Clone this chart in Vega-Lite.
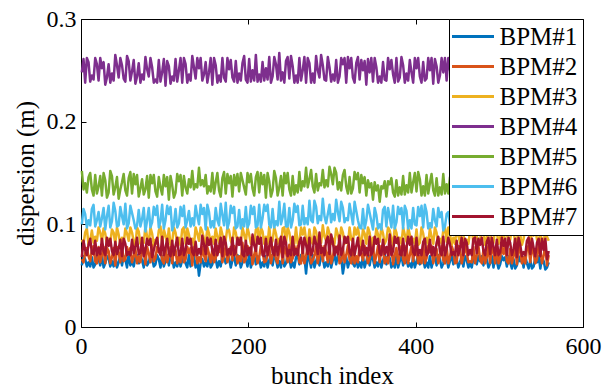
{
"$schema": "https://vega.github.io/schema/vega-lite/v6.json",
"width": 502, "height": 308, "autosize": "none",
"padding": {"left": 81, "top": 19, "right": 22, "bottom": 61},
"background": "white",
"config": {"view": {"stroke": "black", "strokeWidth": 1}, "font": "Liberation Serif, Times New Roman, DejaVu Serif, serif",
 "axis": {"domain": false, "grid": false, "labelFlush": false, "tickColor": "black", "tickWidth": 1, "tickSize": -5, "labelColor": "black", "labelFont": "Liberation Serif, Times New Roman, DejaVu Serif, serif", "labelFontSize": 24, "titleFont": "Liberation Serif, Times New Roman, DejaVu Serif, serif", "titleFontSize": 25, "titleFontWeight": "normal", "titleColor": "black"}},
"data": {"values": [
{"i":1,"BPM#1":0.060,"BPM#2":0.066,"BPM#3":0.085,"BPM#4":0.248,"BPM#5":0.152,"BPM#6":0.100,"BPM#7":0.068},
{"i":3,"BPM#1":0.069,"BPM#2":0.063,"BPM#3":0.081,"BPM#4":0.261,"BPM#5":0.134,"BPM#6":0.115,"BPM#7":0.084},
{"i":5,"BPM#1":0.066,"BPM#2":0.072,"BPM#3":0.092,"BPM#4":0.238,"BPM#5":0.140,"BPM#6":0.110,"BPM#7":0.075},
{"i":7,"BPM#1":0.059,"BPM#2":0.077,"BPM#3":0.096,"BPM#4":0.262,"BPM#5":0.131,"BPM#6":0.097,"BPM#7":0.070},
{"i":9,"BPM#1":0.063,"BPM#2":0.069,"BPM#3":0.080,"BPM#4":0.258,"BPM#5":0.146,"BPM#6":0.104,"BPM#7":0.080},
{"i":11,"BPM#1":0.059,"BPM#2":0.064,"BPM#3":0.084,"BPM#4":0.239,"BPM#5":0.150,"BPM#6":0.099,"BPM#7":0.086},
{"i":13,"BPM#1":0.068,"BPM#2":0.075,"BPM#3":0.094,"BPM#4":0.245,"BPM#5":0.134,"BPM#6":0.115,"BPM#7":0.072},
{"i":15,"BPM#1":0.058,"BPM#2":0.079,"BPM#3":0.082,"BPM#4":0.241,"BPM#5":0.128,"BPM#6":0.119,"BPM#7":0.071},
{"i":17,"BPM#1":0.061,"BPM#2":0.064,"BPM#3":0.088,"BPM#4":0.262,"BPM#5":0.148,"BPM#6":0.098,"BPM#7":0.084},
{"i":19,"BPM#1":0.069,"BPM#2":0.062,"BPM#3":0.084,"BPM#4":0.256,"BPM#5":0.130,"BPM#6":0.104,"BPM#7":0.070},
{"i":21,"BPM#1":0.066,"BPM#2":0.078,"BPM#3":0.097,"BPM#4":0.240,"BPM#5":0.137,"BPM#6":0.112,"BPM#7":0.077},
{"i":23,"BPM#1":0.060,"BPM#2":0.063,"BPM#3":0.092,"BPM#4":0.262,"BPM#5":0.147,"BPM#6":0.098,"BPM#7":0.071},
{"i":25,"BPM#1":0.070,"BPM#2":0.070,"BPM#3":0.083,"BPM#4":0.252,"BPM#5":0.128,"BPM#6":0.106,"BPM#7":0.086},
{"i":27,"BPM#1":0.058,"BPM#2":0.078,"BPM#3":0.096,"BPM#4":0.258,"BPM#5":0.150,"BPM#6":0.116,"BPM#7":0.074},
{"i":29,"BPM#1":0.062,"BPM#2":0.062,"BPM#3":0.091,"BPM#4":0.236,"BPM#5":0.143,"BPM#6":0.095,"BPM#7":0.070},
{"i":31,"BPM#1":0.069,"BPM#2":0.077,"BPM#3":0.080,"BPM#4":0.243,"BPM#5":0.126,"BPM#6":0.108,"BPM#7":0.087},
{"i":33,"BPM#1":0.067,"BPM#2":0.074,"BPM#3":0.086,"BPM#4":0.256,"BPM#5":0.131,"BPM#6":0.118,"BPM#7":0.079},
{"i":35,"BPM#1":0.059,"BPM#2":0.062,"BPM#3":0.082,"BPM#4":0.238,"BPM#5":0.152,"BPM#6":0.097,"BPM#7":0.086},
{"i":37,"BPM#1":0.064,"BPM#2":0.068,"BPM#3":0.095,"BPM#4":0.247,"BPM#5":0.147,"BPM#6":0.103,"BPM#7":0.074},
{"i":39,"BPM#1":0.059,"BPM#2":0.077,"BPM#3":0.092,"BPM#4":0.240,"BPM#5":0.129,"BPM#6":0.121,"BPM#7":0.070},
{"i":41,"BPM#1":0.069,"BPM#2":0.060,"BPM#3":0.081,"BPM#4":0.265,"BPM#5":0.136,"BPM#6":0.113,"BPM#7":0.083},
{"i":43,"BPM#1":0.058,"BPM#2":0.078,"BPM#3":0.097,"BPM#4":0.255,"BPM#5":0.146,"BPM#6":0.098,"BPM#7":0.071},
{"i":45,"BPM#1":0.063,"BPM#2":0.073,"BPM#3":0.090,"BPM#4":0.243,"BPM#5":0.125,"BPM#6":0.099,"BPM#7":0.076},
{"i":47,"BPM#1":0.070,"BPM#2":0.063,"BPM#3":0.080,"BPM#4":0.262,"BPM#5":0.134,"BPM#6":0.117,"BPM#7":0.085},
{"i":49,"BPM#1":0.060,"BPM#2":0.079,"BPM#3":0.087,"BPM#4":0.255,"BPM#5":0.141,"BPM#6":0.108,"BPM#7":0.069},
{"i":51,"BPM#1":0.069,"BPM#2":0.064,"BPM#3":0.081,"BPM#4":0.242,"BPM#5":0.149,"BPM#6":0.100,"BPM#7":0.086},
{"i":53,"BPM#1":0.066,"BPM#2":0.066,"BPM#3":0.096,"BPM#4":0.239,"BPM#5":0.133,"BPM#6":0.120,"BPM#7":0.081},
{"i":55,"BPM#1":0.058,"BPM#2":0.078,"BPM#3":0.091,"BPM#4":0.264,"BPM#5":0.128,"BPM#6":0.096,"BPM#7":0.070},
{"i":57,"BPM#1":0.071,"BPM#2":0.071,"BPM#3":0.084,"BPM#4":0.259,"BPM#5":0.145,"BPM#6":0.101,"BPM#7":0.073},
{"i":59,"BPM#1":0.060,"BPM#2":0.077,"BPM#3":0.097,"BPM#4":0.240,"BPM#5":0.151,"BPM#6":0.118,"BPM#7":0.070},
{"i":61,"BPM#1":0.064,"BPM#2":0.063,"BPM#3":0.092,"BPM#4":0.249,"BPM#5":0.130,"BPM#6":0.111,"BPM#7":0.085},
{"i":63,"BPM#1":0.059,"BPM#2":0.069,"BPM#3":0.083,"BPM#4":0.260,"BPM#5":0.149,"BPM#6":0.104,"BPM#7":0.072},
{"i":65,"BPM#1":0.068,"BPM#2":0.076,"BPM#3":0.079,"BPM#4":0.237,"BPM#5":0.139,"BPM#6":0.096,"BPM#7":0.078},
{"i":67,"BPM#1":0.070,"BPM#2":0.062,"BPM#3":0.097,"BPM#4":0.244,"BPM#5":0.148,"BPM#6":0.099,"BPM#7":0.087},
{"i":69,"BPM#1":0.062,"BPM#2":0.069,"BPM#3":0.093,"BPM#4":0.257,"BPM#5":0.127,"BPM#6":0.114,"BPM#7":0.071},
{"i":71,"BPM#1":0.069,"BPM#2":0.063,"BPM#3":0.081,"BPM#4":0.238,"BPM#5":0.135,"BPM#6":0.098,"BPM#7":0.072},
{"i":73,"BPM#1":0.065,"BPM#2":0.074,"BPM#3":0.086,"BPM#4":0.246,"BPM#5":0.144,"BPM#6":0.105,"BPM#7":0.087},
{"i":75,"BPM#1":0.058,"BPM#2":0.077,"BPM#3":0.082,"BPM#4":0.241,"BPM#5":0.129,"BPM#6":0.116,"BPM#7":0.069},
{"i":77,"BPM#1":0.070,"BPM#2":0.061,"BPM#3":0.098,"BPM#4":0.263,"BPM#5":0.134,"BPM#6":0.093,"BPM#7":0.075},
{"i":79,"BPM#1":0.060,"BPM#2":0.078,"BPM#3":0.088,"BPM#4":0.251,"BPM#5":0.147,"BPM#6":0.104,"BPM#7":0.086},
{"i":81,"BPM#1":0.063,"BPM#2":0.072,"BPM#3":0.082,"BPM#4":0.244,"BPM#5":0.126,"BPM#6":0.116,"BPM#7":0.080},
{"i":83,"BPM#1":0.070,"BPM#2":0.063,"BPM#3":0.097,"BPM#4":0.262,"BPM#5":0.148,"BPM#6":0.097,"BPM#7":0.086},
{"i":85,"BPM#1":0.067,"BPM#2":0.080,"BPM#3":0.091,"BPM#4":0.253,"BPM#5":0.140,"BPM#6":0.102,"BPM#7":0.068},
{"i":87,"BPM#1":0.059,"BPM#2":0.064,"BPM#3":0.080,"BPM#4":0.238,"BPM#5":0.148,"BPM#6":0.117,"BPM#7":0.075},
{"i":89,"BPM#1":0.061,"BPM#2":0.067,"BPM#3":0.085,"BPM#4":0.241,"BPM#5":0.132,"BPM#6":0.109,"BPM#7":0.082},
{"i":91,"BPM#1":0.070,"BPM#2":0.078,"BPM#3":0.081,"BPM#4":0.238,"BPM#5":0.127,"BPM#6":0.118,"BPM#7":0.087},
{"i":93,"BPM#1":0.066,"BPM#2":0.073,"BPM#3":0.094,"BPM#4":0.260,"BPM#5":0.146,"BPM#6":0.097,"BPM#7":0.074},
{"i":95,"BPM#1":0.058,"BPM#2":0.077,"BPM#3":0.098,"BPM#4":0.239,"BPM#5":0.136,"BPM#6":0.103,"BPM#7":0.070},
{"i":97,"BPM#1":0.069,"BPM#2":0.065,"BPM#3":0.080,"BPM#4":0.248,"BPM#5":0.129,"BPM#6":0.119,"BPM#7":0.088},
{"i":99,"BPM#1":0.059,"BPM#2":0.062,"BPM#3":0.095,"BPM#4":0.261,"BPM#5":0.148,"BPM#6":0.096,"BPM#7":0.070},
{"i":101,"BPM#1":0.064,"BPM#2":0.077,"BPM#3":0.089,"BPM#4":0.235,"BPM#5":0.137,"BPM#6":0.104,"BPM#7":0.077},
{"i":103,"BPM#1":0.070,"BPM#2":0.063,"BPM#3":0.081,"BPM#4":0.259,"BPM#5":0.146,"BPM#6":0.118,"BPM#7":0.086},
{"i":105,"BPM#1":0.060,"BPM#2":0.070,"BPM#3":0.096,"BPM#4":0.254,"BPM#5":0.124,"BPM#6":0.110,"BPM#7":0.072},
{"i":107,"BPM#1":0.069,"BPM#2":0.078,"BPM#3":0.080,"BPM#4":0.237,"BPM#5":0.147,"BPM#6":0.117,"BPM#7":0.069},
{"i":109,"BPM#1":0.067,"BPM#2":0.062,"BPM#3":0.083,"BPM#4":0.244,"BPM#5":0.138,"BPM#6":0.094,"BPM#7":0.084},
{"i":111,"BPM#1":0.058,"BPM#2":0.077,"BPM#3":0.097,"BPM#4":0.240,"BPM#5":0.126,"BPM#6":0.100,"BPM#7":0.070},
{"i":113,"BPM#1":0.063,"BPM#2":0.075,"BPM#3":0.092,"BPM#4":0.261,"BPM#5":0.131,"BPM#6":0.115,"BPM#7":0.079},
{"i":115,"BPM#1":0.059,"BPM#2":0.062,"BPM#3":0.081,"BPM#4":0.239,"BPM#5":0.149,"BPM#6":0.097,"BPM#7":0.087},
{"i":117,"BPM#1":0.068,"BPM#2":0.069,"BPM#3":0.087,"BPM#4":0.250,"BPM#5":0.142,"BPM#6":0.101,"BPM#7":0.070},
{"i":119,"BPM#1":0.059,"BPM#2":0.063,"BPM#3":0.080,"BPM#4":0.262,"BPM#5":0.148,"BPM#6":0.117,"BPM#7":0.071},
{"i":121,"BPM#1":0.065,"BPM#2":0.081,"BPM#3":0.095,"BPM#4":0.238,"BPM#5":0.128,"BPM#6":0.108,"BPM#7":0.086},
{"i":123,"BPM#1":0.070,"BPM#2":0.063,"BPM#3":0.097,"BPM#4":0.262,"BPM#5":0.147,"BPM#6":0.118,"BPM#7":0.070},
{"i":125,"BPM#1":0.062,"BPM#2":0.066,"BPM#3":0.081,"BPM#4":0.256,"BPM#5":0.136,"BPM#6":0.097,"BPM#7":0.075},
{"i":127,"BPM#1":0.058,"BPM#2":0.078,"BPM#3":0.096,"BPM#4":0.238,"BPM#5":0.130,"BPM#6":0.104,"BPM#7":0.087},
{"i":129,"BPM#1":0.070,"BPM#2":0.072,"BPM#3":0.090,"BPM#4":0.246,"BPM#5":0.144,"BPM#6":0.113,"BPM#7":0.081},
{"i":131,"BPM#1":0.059,"BPM#2":0.077,"BPM#3":0.081,"BPM#4":0.240,"BPM#5":0.136,"BPM#6":0.098,"BPM#7":0.086},
{"i":133,"BPM#1":0.064,"BPM#2":0.060,"BPM#3":0.086,"BPM#4":0.264,"BPM#5":0.152,"BPM#6":0.106,"BPM#7":0.073},
{"i":135,"BPM#1":0.068,"BPM#2":0.078,"BPM#3":0.080,"BPM#4":0.253,"BPM#5":0.134,"BPM#6":0.099,"BPM#7":0.070},
{"i":137,"BPM#1":0.058,"BPM#2":0.074,"BPM#3":0.097,"BPM#4":0.242,"BPM#5":0.139,"BPM#6":0.118,"BPM#7":0.083},
{"i":139,"BPM#1":0.066,"BPM#2":0.062,"BPM#3":0.091,"BPM#4":0.262,"BPM#5":0.136,"BPM#6":0.108,"BPM#7":0.070},
{"i":141,"BPM#1":0.050,"BPM#2":0.068,"BPM#3":0.084,"BPM#4":0.252,"BPM#5":0.155,"BPM#6":0.100,"BPM#7":0.076},
{"i":143,"BPM#1":0.062,"BPM#2":0.063,"BPM#3":0.097,"BPM#4":0.262,"BPM#5":0.138,"BPM#6":0.119,"BPM#7":0.071},
{"i":145,"BPM#1":0.066,"BPM#2":0.078,"BPM#3":0.093,"BPM#4":0.240,"BPM#5":0.143,"BPM#6":0.110,"BPM#7":0.089},
{"i":147,"BPM#1":0.059,"BPM#2":0.070,"BPM#3":0.086,"BPM#4":0.246,"BPM#5":0.137,"BPM#6":0.116,"BPM#7":0.080},
{"i":149,"BPM#1":0.063,"BPM#2":0.064,"BPM#3":0.079,"BPM#4":0.258,"BPM#5":0.148,"BPM#6":0.095,"BPM#7":0.071},
{"i":151,"BPM#1":0.059,"BPM#2":0.078,"BPM#3":0.097,"BPM#4":0.238,"BPM#5":0.130,"BPM#6":0.119,"BPM#7":0.087},
{"i":153,"BPM#1":0.069,"BPM#2":0.071,"BPM#3":0.091,"BPM#4":0.248,"BPM#5":0.137,"BPM#6":0.112,"BPM#7":0.080},
{"i":155,"BPM#1":0.058,"BPM#2":0.063,"BPM#3":0.081,"BPM#4":0.262,"BPM#5":0.132,"BPM#6":0.097,"BPM#7":0.086},
{"i":157,"BPM#1":0.061,"BPM#2":0.076,"BPM#3":0.088,"BPM#4":0.236,"BPM#5":0.150,"BPM#6":0.103,"BPM#7":0.074},
{"i":159,"BPM#1":0.070,"BPM#2":0.063,"BPM#3":0.081,"BPM#4":0.262,"BPM#5":0.130,"BPM#6":0.097,"BPM#7":0.070},
{"i":161,"BPM#1":0.066,"BPM#2":0.067,"BPM#3":0.096,"BPM#4":0.255,"BPM#5":0.141,"BPM#6":0.116,"BPM#7":0.085},
{"i":163,"BPM#1":0.058,"BPM#2":0.079,"BPM#3":0.088,"BPM#4":0.238,"BPM#5":0.150,"BPM#6":0.104,"BPM#7":0.070},
{"i":165,"BPM#1":0.064,"BPM#2":0.073,"BPM#3":0.082,"BPM#4":0.245,"BPM#5":0.133,"BPM#6":0.099,"BPM#7":0.078},
{"i":167,"BPM#1":0.059,"BPM#2":0.078,"BPM#3":0.097,"BPM#4":0.239,"BPM#5":0.127,"BPM#6":0.120,"BPM#7":0.087},
{"i":169,"BPM#1":0.070,"BPM#2":0.063,"BPM#3":0.090,"BPM#4":0.262,"BPM#5":0.145,"BPM#6":0.109,"BPM#7":0.069},
{"i":171,"BPM#1":0.067,"BPM#2":0.070,"BPM#3":0.080,"BPM#4":0.243,"BPM#5":0.151,"BPM#6":0.099,"BPM#7":0.088},
{"i":173,"BPM#1":0.062,"BPM#2":0.079,"BPM#3":0.085,"BPM#4":0.239,"BPM#5":0.130,"BPM#6":0.121,"BPM#7":0.082},
{"i":175,"BPM#1":0.070,"BPM#2":0.063,"BPM#3":0.097,"BPM#4":0.262,"BPM#5":0.149,"BPM#6":0.096,"BPM#7":0.070},
{"i":177,"BPM#1":0.067,"BPM#2":0.070,"BPM#3":0.094,"BPM#4":0.251,"BPM#5":0.140,"BPM#6":0.102,"BPM#7":0.076},
{"i":179,"BPM#1":0.058,"BPM#2":0.078,"BPM#3":0.084,"BPM#4":0.260,"BPM#5":0.147,"BPM#6":0.118,"BPM#7":0.071},
{"i":181,"BPM#1":0.065,"BPM#2":0.065,"BPM#3":0.080,"BPM#4":0.243,"BPM#5":0.127,"BPM#6":0.111,"BPM#7":0.087},
{"i":183,"BPM#1":0.069,"BPM#2":0.079,"BPM#3":0.097,"BPM#4":0.239,"BPM#5":0.148,"BPM#6":0.117,"BPM#7":0.070},
{"i":185,"BPM#1":0.060,"BPM#2":0.075,"BPM#3":0.092,"BPM#4":0.259,"BPM#5":0.138,"BPM#6":0.096,"BPM#7":0.073},
{"i":187,"BPM#1":0.070,"BPM#2":0.062,"BPM#3":0.081,"BPM#4":0.238,"BPM#5":0.149,"BPM#6":0.098,"BPM#7":0.087},
{"i":189,"BPM#1":0.068,"BPM#2":0.069,"BPM#3":0.087,"BPM#4":0.247,"BPM#5":0.132,"BPM#6":0.114,"BPM#7":0.080},
{"i":191,"BPM#1":0.058,"BPM#2":0.064,"BPM#3":0.081,"BPM#4":0.240,"BPM#5":0.150,"BPM#6":0.096,"BPM#7":0.087},
{"i":193,"BPM#1":0.063,"BPM#2":0.082,"BPM#3":0.097,"BPM#4":0.257,"BPM#5":0.143,"BPM#6":0.105,"BPM#7":0.071},
{"i":195,"BPM#1":0.070,"BPM#2":0.063,"BPM#3":0.090,"BPM#4":0.264,"BPM#5":0.136,"BPM#6":0.098,"BPM#7":0.069},
{"i":197,"BPM#1":0.066,"BPM#2":0.066,"BPM#3":0.083,"BPM#4":0.241,"BPM#5":0.129,"BPM#6":0.117,"BPM#7":0.084},
{"i":199,"BPM#1":0.059,"BPM#2":0.079,"BPM#3":0.097,"BPM#4":0.238,"BPM#5":0.150,"BPM#6":0.097,"BPM#7":0.070},
{"i":201,"BPM#1":0.071,"BPM#2":0.072,"BPM#3":0.090,"BPM#4":0.261,"BPM#5":0.141,"BPM#6":0.101,"BPM#7":0.077},
{"i":203,"BPM#1":0.058,"BPM#2":0.078,"BPM#3":0.081,"BPM#4":0.239,"BPM#5":0.149,"BPM#6":0.118,"BPM#7":0.070},
{"i":205,"BPM#1":0.064,"BPM#2":0.061,"BPM#3":0.086,"BPM#4":0.250,"BPM#5":0.135,"BPM#6":0.110,"BPM#7":0.090},
{"i":207,"BPM#1":0.070,"BPM#2":0.070,"BPM#3":0.080,"BPM#4":0.240,"BPM#5":0.128,"BPM#6":0.117,"BPM#7":0.080},
{"i":209,"BPM#1":0.061,"BPM#2":0.077,"BPM#3":0.095,"BPM#4":0.265,"BPM#5":0.146,"BPM#6":0.097,"BPM#7":0.074},
{"i":211,"BPM#1":0.069,"BPM#2":0.062,"BPM#3":0.097,"BPM#4":0.239,"BPM#5":0.151,"BPM#6":0.099,"BPM#7":0.088},
{"i":213,"BPM#1":0.067,"BPM#2":0.068,"BPM#3":0.081,"BPM#4":0.246,"BPM#5":0.131,"BPM#6":0.119,"BPM#7":0.081},
{"i":215,"BPM#1":0.058,"BPM#2":0.079,"BPM#3":0.097,"BPM#4":0.239,"BPM#5":0.150,"BPM#6":0.097,"BPM#7":0.087},
{"i":217,"BPM#1":0.063,"BPM#2":0.074,"BPM#3":0.093,"BPM#4":0.258,"BPM#5":0.139,"BPM#6":0.106,"BPM#7":0.070},
{"i":219,"BPM#1":0.059,"BPM#2":0.063,"BPM#3":0.081,"BPM#4":0.240,"BPM#5":0.148,"BPM#6":0.119,"BPM#7":0.069},
{"i":221,"BPM#1":0.069,"BPM#2":0.064,"BPM#3":0.088,"BPM#4":0.252,"BPM#5":0.126,"BPM#6":0.113,"BPM#7":0.086},
{"i":223,"BPM#1":0.058,"BPM#2":0.070,"BPM#3":0.081,"BPM#4":0.241,"BPM#5":0.150,"BPM#6":0.119,"BPM#7":0.070},
{"i":225,"BPM#1":0.065,"BPM#2":0.079,"BPM#3":0.098,"BPM#4":0.263,"BPM#5":0.142,"BPM#6":0.100,"BPM#7":0.078},
{"i":227,"BPM#1":0.070,"BPM#2":0.062,"BPM#3":0.080,"BPM#4":0.238,"BPM#5":0.127,"BPM#6":0.097,"BPM#7":0.087},
{"i":229,"BPM#1":0.060,"BPM#2":0.070,"BPM#3":0.084,"BPM#4":0.244,"BPM#5":0.133,"BPM#6":0.115,"BPM#7":0.073},
{"i":231,"BPM#1":0.070,"BPM#2":0.078,"BPM#3":0.097,"BPM#4":0.263,"BPM#5":0.152,"BPM#6":0.097,"BPM#7":0.070},
{"i":233,"BPM#1":0.066,"BPM#2":0.066,"BPM#3":0.091,"BPM#4":0.256,"BPM#5":0.145,"BPM#6":0.103,"BPM#7":0.085},
{"i":235,"BPM#1":0.058,"BPM#2":0.062,"BPM#3":0.081,"BPM#4":0.241,"BPM#5":0.128,"BPM#6":0.099,"BPM#7":0.070},
{"i":237,"BPM#1":0.064,"BPM#2":0.075,"BPM#3":0.086,"BPM#4":0.267,"BPM#5":0.136,"BPM#6":0.122,"BPM#7":0.079},
{"i":239,"BPM#1":0.058,"BPM#2":0.079,"BPM#3":0.080,"BPM#4":0.240,"BPM#5":0.147,"BPM#6":0.100,"BPM#7":0.088},
{"i":241,"BPM#1":0.070,"BPM#2":0.062,"BPM#3":0.096,"BPM#4":0.248,"BPM#5":0.128,"BPM#6":0.107,"BPM#7":0.068},
{"i":243,"BPM#1":0.059,"BPM#2":0.078,"BPM#3":0.097,"BPM#4":0.238,"BPM#5":0.150,"BPM#6":0.120,"BPM#7":0.088},
{"i":245,"BPM#1":0.062,"BPM#2":0.073,"BPM#3":0.082,"BPM#4":0.259,"BPM#5":0.140,"BPM#6":0.098,"BPM#7":0.082},
{"i":247,"BPM#1":0.070,"BPM#2":0.063,"BPM#3":0.097,"BPM#4":0.263,"BPM#5":0.150,"BPM#6":0.098,"BPM#7":0.069},
{"i":249,"BPM#1":0.067,"BPM#2":0.080,"BPM#3":0.092,"BPM#4":0.242,"BPM#5":0.134,"BPM#6":0.116,"BPM#7":0.075},
{"i":251,"BPM#1":0.058,"BPM#2":0.063,"BPM#3":0.081,"BPM#4":0.264,"BPM#5":0.128,"BPM#6":0.097,"BPM#7":0.070},
{"i":253,"BPM#1":0.063,"BPM#2":0.067,"BPM#3":0.087,"BPM#4":0.254,"BPM#5":0.147,"BPM#6":0.104,"BPM#7":0.088},
{"i":255,"BPM#1":0.058,"BPM#2":0.079,"BPM#3":0.081,"BPM#4":0.238,"BPM#5":0.129,"BPM#6":0.120,"BPM#7":0.070},
{"i":257,"BPM#1":0.068,"BPM#2":0.071,"BPM#3":0.097,"BPM#4":0.245,"BPM#5":0.138,"BPM#6":0.112,"BPM#7":0.076},
{"i":259,"BPM#1":0.070,"BPM#2":0.079,"BPM#3":0.081,"BPM#4":0.238,"BPM#5":0.131,"BPM#6":0.118,"BPM#7":0.070},
{"i":261,"BPM#1":0.061,"BPM#2":0.063,"BPM#3":0.083,"BPM#4":0.262,"BPM#5":0.151,"BPM#6":0.099,"BPM#7":0.083},
{"i":263,"BPM#1":0.070,"BPM#2":0.062,"BPM#3":0.097,"BPM#4":0.240,"BPM#5":0.133,"BPM#6":0.100,"BPM#7":0.087},
{"i":265,"BPM#1":0.065,"BPM#2":0.076,"BPM#3":0.090,"BPM#4":0.250,"BPM#5":0.142,"BPM#6":0.118,"BPM#7":0.072},
{"i":267,"BPM#1":0.068,"BPM#2":0.062,"BPM#3":0.097,"BPM#4":0.263,"BPM#5":0.137,"BPM#6":0.100,"BPM#7":0.087},
{"i":269,"BPM#1":0.052,"BPM#2":0.069,"BPM#3":0.085,"BPM#4":0.238,"BPM#5":0.155,"BPM#6":0.106,"BPM#7":0.080},
{"i":271,"BPM#1":0.070,"BPM#2":0.079,"BPM#3":0.080,"BPM#4":0.262,"BPM#5":0.136,"BPM#6":0.100,"BPM#7":0.071},
{"i":273,"BPM#1":0.066,"BPM#2":0.074,"BPM#3":0.095,"BPM#4":0.257,"BPM#5":0.144,"BPM#6":0.123,"BPM#7":0.087},
{"i":275,"BPM#1":0.058,"BPM#2":0.062,"BPM#3":0.084,"BPM#4":0.238,"BPM#5":0.153,"BPM#6":0.104,"BPM#7":0.070},
{"i":277,"BPM#1":0.070,"BPM#2":0.065,"BPM#3":0.081,"BPM#4":0.247,"BPM#5":0.137,"BPM#6":0.102,"BPM#7":0.074},
{"i":279,"BPM#1":0.058,"BPM#2":0.070,"BPM#3":0.097,"BPM#4":0.238,"BPM#5":0.131,"BPM#6":0.123,"BPM#7":0.088},
{"i":281,"BPM#1":0.064,"BPM#2":0.078,"BPM#3":0.093,"BPM#4":0.264,"BPM#5":0.149,"BPM#6":0.117,"BPM#7":0.081},
{"i":283,"BPM#1":0.070,"BPM#2":0.062,"BPM#3":0.081,"BPM#4":0.250,"BPM#5":0.133,"BPM#6":0.101,"BPM#7":0.071},
{"i":285,"BPM#1":0.060,"BPM#2":0.070,"BPM#3":0.088,"BPM#4":0.243,"BPM#5":0.140,"BPM#6":0.108,"BPM#7":0.092},
{"i":287,"BPM#1":0.070,"BPM#2":0.079,"BPM#3":0.082,"BPM#4":0.265,"BPM#5":0.138,"BPM#6":0.104,"BPM#7":0.072},
{"i":289,"BPM#1":0.067,"BPM#2":0.064,"BPM#3":0.099,"BPM#4":0.255,"BPM#5":0.153,"BPM#6":0.125,"BPM#7":0.077},
{"i":291,"BPM#1":0.058,"BPM#2":0.079,"BPM#3":0.088,"BPM#4":0.241,"BPM#5":0.136,"BPM#6":0.108,"BPM#7":0.070},
{"i":293,"BPM#1":0.063,"BPM#2":0.073,"BPM#3":0.084,"BPM#4":0.240,"BPM#5":0.143,"BPM#6":0.101,"BPM#7":0.084},
{"i":295,"BPM#1":0.059,"BPM#2":0.063,"BPM#3":0.097,"BPM#4":0.263,"BPM#5":0.137,"BPM#6":0.110,"BPM#7":0.088},
{"i":297,"BPM#1":0.069,"BPM#2":0.081,"BPM#3":0.091,"BPM#4":0.253,"BPM#5":0.156,"BPM#6":0.119,"BPM#7":0.071},
{"i":299,"BPM#1":0.058,"BPM#2":0.062,"BPM#3":0.081,"BPM#4":0.239,"BPM#5":0.149,"BPM#6":0.102,"BPM#7":0.090},
{"i":301,"BPM#1":0.065,"BPM#2":0.068,"BPM#3":0.086,"BPM#4":0.246,"BPM#5":0.139,"BPM#6":0.110,"BPM#7":0.083},
{"i":303,"BPM#1":0.070,"BPM#2":0.079,"BPM#3":0.081,"BPM#4":0.240,"BPM#5":0.155,"BPM#6":0.104,"BPM#7":0.070},
{"i":305,"BPM#1":0.061,"BPM#2":0.074,"BPM#3":0.096,"BPM#4":0.260,"BPM#5":0.150,"BPM#6":0.124,"BPM#7":0.078},
{"i":307,"BPM#1":0.070,"BPM#2":0.079,"BPM#3":0.090,"BPM#4":0.238,"BPM#5":0.134,"BPM#6":0.112,"BPM#7":0.071},
{"i":309,"BPM#1":0.066,"BPM#2":0.062,"BPM#3":0.082,"BPM#4":0.244,"BPM#5":0.141,"BPM#6":0.103,"BPM#7":0.089},
{"i":311,"BPM#1":0.068,"BPM#2":0.064,"BPM#3":0.097,"BPM#4":0.262,"BPM#5":0.133,"BPM#6":0.122,"BPM#7":0.070},
{"i":313,"BPM#1":0.052,"BPM#2":0.077,"BPM#3":0.092,"BPM#4":0.256,"BPM#5":0.148,"BPM#6":0.116,"BPM#7":0.075},
{"i":315,"BPM#1":0.062,"BPM#2":0.063,"BPM#3":0.081,"BPM#4":0.262,"BPM#5":0.153,"BPM#6":0.102,"BPM#7":0.088},
{"i":317,"BPM#1":0.068,"BPM#2":0.070,"BPM#3":0.087,"BPM#4":0.238,"BPM#5":0.137,"BPM#6":0.106,"BPM#7":0.082},
{"i":319,"BPM#1":0.058,"BPM#2":0.079,"BPM#3":0.081,"BPM#4":0.263,"BPM#5":0.130,"BPM#6":0.104,"BPM#7":0.088},
{"i":321,"BPM#1":0.064,"BPM#2":0.066,"BPM#3":0.097,"BPM#4":0.252,"BPM#5":0.146,"BPM#6":0.120,"BPM#7":0.073},
{"i":323,"BPM#1":0.070,"BPM#2":0.062,"BPM#3":0.085,"BPM#4":0.262,"BPM#5":0.130,"BPM#6":0.110,"BPM#7":0.070},
{"i":325,"BPM#1":0.062,"BPM#2":0.075,"BPM#3":0.083,"BPM#4":0.243,"BPM#5":0.135,"BPM#6":0.100,"BPM#7":0.086},
{"i":327,"BPM#1":0.059,"BPM#2":0.062,"BPM#3":0.097,"BPM#4":0.238,"BPM#5":0.151,"BPM#6":0.122,"BPM#7":0.070},
{"i":329,"BPM#1":0.067,"BPM#2":0.069,"BPM#3":0.090,"BPM#4":0.257,"BPM#5":0.144,"BPM#6":0.113,"BPM#7":0.079},
{"i":331,"BPM#1":0.058,"BPM#2":0.063,"BPM#3":0.097,"BPM#4":0.263,"BPM#5":0.150,"BPM#6":0.104,"BPM#7":0.087},
{"i":333,"BPM#1":0.063,"BPM#2":0.079,"BPM#3":0.086,"BPM#4":0.241,"BPM#5":0.131,"BPM#6":0.097,"BPM#7":0.070},
{"i":335,"BPM#1":0.058,"BPM#2":0.071,"BPM#3":0.080,"BPM#4":0.260,"BPM#5":0.148,"BPM#6":0.096,"BPM#7":0.072},
{"i":337,"BPM#1":0.069,"BPM#2":0.065,"BPM#3":0.095,"BPM#4":0.250,"BPM#5":0.140,"BPM#6":0.115,"BPM#7":0.084},
{"i":339,"BPM#1":0.058,"BPM#2":0.079,"BPM#3":0.091,"BPM#4":0.259,"BPM#5":0.146,"BPM#6":0.096,"BPM#7":0.070},
{"i":341,"BPM#1":0.064,"BPM#2":0.072,"BPM#3":0.081,"BPM#4":0.236,"BPM#5":0.128,"BPM#6":0.104,"BPM#7":0.077},
{"i":343,"BPM#1":0.070,"BPM#2":0.062,"BPM#3":0.097,"BPM#4":0.261,"BPM#5":0.143,"BPM#6":0.119,"BPM#7":0.070},
{"i":345,"BPM#1":0.060,"BPM#2":0.067,"BPM#3":0.092,"BPM#4":0.248,"BPM#5":0.136,"BPM#6":0.111,"BPM#7":0.088},
{"i":347,"BPM#1":0.070,"BPM#2":0.074,"BPM#3":0.080,"BPM#4":0.262,"BPM#5":0.140,"BPM#6":0.103,"BPM#7":0.070},
{"i":349,"BPM#1":0.066,"BPM#2":0.080,"BPM#3":0.087,"BPM#4":0.239,"BPM#5":0.124,"BPM#6":0.095,"BPM#7":0.074},
{"i":351,"BPM#1":0.058,"BPM#2":0.062,"BPM#3":0.081,"BPM#4":0.262,"BPM#5":0.141,"BPM#6":0.116,"BPM#7":0.088},
{"i":353,"BPM#1":0.063,"BPM#2":0.070,"BPM#3":0.096,"BPM#4":0.253,"BPM#5":0.133,"BPM#6":0.109,"BPM#7":0.081},
{"i":355,"BPM#1":0.059,"BPM#2":0.079,"BPM#3":0.090,"BPM#4":0.238,"BPM#5":0.138,"BPM#6":0.096,"BPM#7":0.086},
{"i":357,"BPM#1":0.068,"BPM#2":0.063,"BPM#3":0.083,"BPM#4":0.244,"BPM#5":0.122,"BPM#6":0.100,"BPM#7":0.072},
{"i":359,"BPM#1":0.058,"BPM#2":0.079,"BPM#3":0.097,"BPM#4":0.238,"BPM#5":0.137,"BPM#6":0.095,"BPM#7":0.070},
{"i":361,"BPM#1":0.065,"BPM#2":0.076,"BPM#3":0.091,"BPM#4":0.258,"BPM#5":0.135,"BPM#6":0.114,"BPM#7":0.085},
{"i":363,"BPM#1":0.070,"BPM#2":0.062,"BPM#3":0.081,"BPM#4":0.241,"BPM#5":0.142,"BPM#6":0.117,"BPM#7":0.071},
{"i":365,"BPM#1":0.061,"BPM#2":0.068,"BPM#3":0.085,"BPM#4":0.240,"BPM#5":0.127,"BPM#6":0.098,"BPM#7":0.078},
{"i":367,"BPM#1":0.070,"BPM#2":0.062,"BPM#3":0.097,"BPM#4":0.262,"BPM#5":0.142,"BPM#6":0.116,"BPM#7":0.070},
{"i":369,"BPM#1":0.067,"BPM#2":0.074,"BPM#3":0.094,"BPM#4":0.251,"BPM#5":0.139,"BPM#6":0.107,"BPM#7":0.090},
{"i":371,"BPM#1":0.058,"BPM#2":0.079,"BPM#3":0.086,"BPM#4":0.260,"BPM#5":0.145,"BPM#6":0.097,"BPM#7":0.070},
{"i":373,"BPM#1":0.063,"BPM#2":0.061,"BPM#3":0.080,"BPM#4":0.246,"BPM#5":0.131,"BPM#6":0.118,"BPM#7":0.074},
{"i":375,"BPM#1":0.058,"BPM#2":0.070,"BPM#3":0.097,"BPM#4":0.238,"BPM#5":0.127,"BPM#6":0.096,"BPM#7":0.088},
{"i":377,"BPM#1":0.069,"BPM#2":0.077,"BPM#3":0.092,"BPM#4":0.262,"BPM#5":0.143,"BPM#6":0.102,"BPM#7":0.082},
{"i":379,"BPM#1":0.058,"BPM#2":0.062,"BPM#3":0.081,"BPM#4":0.239,"BPM#5":0.128,"BPM#6":0.117,"BPM#7":0.087},
{"i":381,"BPM#1":0.064,"BPM#2":0.071,"BPM#3":0.087,"BPM#4":0.243,"BPM#5":0.136,"BPM#6":0.110,"BPM#7":0.071},
{"i":383,"BPM#1":0.070,"BPM#2":0.079,"BPM#3":0.081,"BPM#4":0.263,"BPM#5":0.129,"BPM#6":0.116,"BPM#7":0.070},
{"i":385,"BPM#1":0.060,"BPM#2":0.066,"BPM#3":0.097,"BPM#4":0.255,"BPM#5":0.147,"BPM#6":0.096,"BPM#7":0.086},
{"i":387,"BPM#1":0.070,"BPM#2":0.062,"BPM#3":0.090,"BPM#4":0.238,"BPM#5":0.129,"BPM#6":0.118,"BPM#7":0.070},
{"i":389,"BPM#1":0.066,"BPM#2":0.079,"BPM#3":0.083,"BPM#4":0.247,"BPM#5":0.138,"BPM#6":0.113,"BPM#7":0.077},
{"i":391,"BPM#1":0.059,"BPM#2":0.062,"BPM#3":0.097,"BPM#4":0.240,"BPM#5":0.131,"BPM#6":0.096,"BPM#7":0.088},
{"i":393,"BPM#1":0.062,"BPM#2":0.070,"BPM#3":0.090,"BPM#4":0.260,"BPM#5":0.150,"BPM#6":0.104,"BPM#7":0.080},
{"i":395,"BPM#1":0.058,"BPM#2":0.079,"BPM#3":0.080,"BPM#4":0.248,"BPM#5":0.131,"BPM#6":0.096,"BPM#7":0.088},
{"i":397,"BPM#1":0.068,"BPM#2":0.064,"BPM#3":0.086,"BPM#4":0.238,"BPM#5":0.141,"BPM#6":0.116,"BPM#7":0.073},
{"i":399,"BPM#1":0.058,"BPM#2":0.079,"BPM#3":0.081,"BPM#4":0.262,"BPM#5":0.150,"BPM#6":0.100,"BPM#7":0.070},
{"i":401,"BPM#1":0.064,"BPM#2":0.075,"BPM#3":0.095,"BPM#4":0.252,"BPM#5":0.132,"BPM#6":0.099,"BPM#7":0.087},
{"i":403,"BPM#1":0.070,"BPM#2":0.062,"BPM#3":0.080,"BPM#4":0.262,"BPM#5":0.151,"BPM#6":0.117,"BPM#7":0.070},
{"i":405,"BPM#1":0.061,"BPM#2":0.069,"BPM#3":0.082,"BPM#4":0.244,"BPM#5":0.144,"BPM#6":0.108,"BPM#7":0.075},
{"i":407,"BPM#1":0.070,"BPM#2":0.062,"BPM#3":0.097,"BPM#4":0.238,"BPM#5":0.128,"BPM#6":0.118,"BPM#7":0.070},
{"i":409,"BPM#1":0.066,"BPM#2":0.081,"BPM#3":0.091,"BPM#4":0.258,"BPM#5":0.137,"BPM#6":0.097,"BPM#7":0.083},
{"i":411,"BPM#1":0.058,"BPM#2":0.062,"BPM#3":0.080,"BPM#4":0.240,"BPM#5":0.128,"BPM#6":0.119,"BPM#7":0.086},
{"i":413,"BPM#1":0.063,"BPM#2":0.067,"BPM#3":0.087,"BPM#4":0.242,"BPM#5":0.148,"BPM#6":0.112,"BPM#7":0.070},
{"i":415,"BPM#1":0.058,"BPM#2":0.079,"BPM#3":0.081,"BPM#4":0.262,"BPM#5":0.130,"BPM#6":0.096,"BPM#7":0.072},
{"i":417,"BPM#1":0.069,"BPM#2":0.073,"BPM#3":0.096,"BPM#4":0.250,"BPM#5":0.140,"BPM#6":0.101,"BPM#7":0.085},
{"i":419,"BPM#1":0.058,"BPM#2":0.079,"BPM#3":0.088,"BPM#4":0.262,"BPM#5":0.149,"BPM#6":0.097,"BPM#7":0.070},
{"i":421,"BPM#1":0.065,"BPM#2":0.062,"BPM#3":0.081,"BPM#4":0.237,"BPM#5":0.133,"BPM#6":0.115,"BPM#7":0.078},
{"i":423,"BPM#1":0.070,"BPM#2":0.070,"BPM#3":0.097,"BPM#4":0.261,"BPM#5":0.128,"BPM#6":0.104,"BPM#7":0.070},
{"i":425,"BPM#1":0.060,"BPM#2":0.076,"BPM#3":0.092,"BPM#4":0.254,"BPM#5":0.145,"BPM#6":0.098,"BPM#7":0.082},
{"i":427,"BPM#1":0.070,"BPM#2":0.062,"BPM#3":0.080,"BPM#4":0.238,"BPM#5":0.128,"BPM#6":0.116,"BPM#7":0.088},
{"i":429,"BPM#1":0.066,"BPM#2":0.070,"BPM#3":0.086,"BPM#4":0.245,"BPM#5":0.136,"BPM#6":0.107,"BPM#7":0.074},
{"i":431,"BPM#1":0.058,"BPM#2":0.079,"BPM#3":0.081,"BPM#4":0.262,"BPM#5":0.129,"BPM#6":0.112,"BPM#7":0.070},
{"i":433,"BPM#1":0.062,"BPM#2":0.065,"BPM#3":0.094,"BPM#4":0.248,"BPM#5":0.149,"BPM#6":0.094,"BPM#7":0.088},
{"i":435,"BPM#1":0.070,"BPM#2":0.062,"BPM#3":0.097,"BPM#4":0.262,"BPM#5":0.130,"BPM#6":0.098,"BPM#7":0.070},
{"i":437,"BPM#1":0.067,"BPM#2":0.078,"BPM#3":0.083,"BPM#4":0.240,"BPM#5":0.139,"BPM#6":0.110,"BPM#7":0.076},
{"i":439,"BPM#1":0.058,"BPM#2":0.062,"BPM#3":0.097,"BPM#4":0.262,"BPM#5":0.130,"BPM#6":0.112,"BPM#7":0.087},
{"i":441,"BPM#1":0.064,"BPM#2":0.068,"BPM#3":0.091,"BPM#4":0.251,"BPM#5":0.146,"BPM#6":0.100,"BPM#7":0.081},
{"i":443,"BPM#1":0.070,"BPM#2":0.079,"BPM#3":0.080,"BPM#4":0.238,"BPM#5":0.150,"BPM#6":0.114,"BPM#7":0.070},
{"i":445,"BPM#1":0.061,"BPM#2":0.074,"BPM#3":0.087,"BPM#4":0.243,"BPM#5":0.134,"BPM#6":0.105,"BPM#7":0.073},
{"i":447,"BPM#1":0.070,"BPM#2":0.062,"BPM#3":0.081,"BPM#4":0.262,"BPM#5":0.150,"BPM#6":0.092,"BPM#7":0.070},
{"i":449,"BPM#1":0.066,"BPM#2":0.063,"BPM#3":0.096,"BPM#4":0.256,"BPM#5":0.142,"BPM#6":0.097,"BPM#7":0.084},
{"i":451,"BPM#1":0.058,"BPM#2":0.079,"BPM#3":0.089,"BPM#4":0.238,"BPM#5":0.128,"BPM#6":0.092,"BPM#7":0.070},
{"i":453,"BPM#1":0.063,"BPM#2":0.077,"BPM#3":0.082,"BPM#4":0.246,"BPM#5":0.137,"BPM#6":0.108,"BPM#7":0.077},
{"i":455,"BPM#1":0.069,"BPM#2":0.062,"BPM#3":0.097,"BPM#4":0.262,"BPM#5":0.128,"BPM#6":0.104,"BPM#7":0.087},
{"i":457,"BPM#1":0.059,"BPM#2":0.069,"BPM#3":0.090,"BPM#4":0.253,"BPM#5":0.145,"BPM#6":0.095,"BPM#7":0.070},
{"i":459,"BPM#1":0.069,"BPM#2":0.079,"BPM#3":0.081,"BPM#4":0.262,"BPM#5":0.150,"BPM#6":0.092,"BPM#7":0.086},
{"i":461,"BPM#1":0.065,"BPM#2":0.072,"BPM#3":0.085,"BPM#4":0.241,"BPM#5":0.133,"BPM#6":0.103,"BPM#7":0.082},
{"i":463,"BPM#1":0.058,"BPM#2":0.063,"BPM#3":0.081,"BPM#4":0.239,"BPM#5":0.128,"BPM#6":0.105,"BPM#7":0.070},
{"i":465,"BPM#1":0.062,"BPM#2":0.064,"BPM#3":0.093,"BPM#4":0.257,"BPM#5":0.141,"BPM#6":0.092,"BPM#7":0.075},
{"i":467,"BPM#1":0.058,"BPM#2":0.063,"BPM#3":0.097,"BPM#4":0.238,"BPM#5":0.151,"BPM#6":0.092,"BPM#7":0.070},
{"i":469,"BPM#1":0.067,"BPM#2":0.078,"BPM#3":0.081,"BPM#4":0.248,"BPM#5":0.136,"BPM#6":0.106,"BPM#7":0.086},
{"i":471,"BPM#1":0.069,"BPM#2":0.062,"BPM#3":0.093,"BPM#4":0.262,"BPM#5":0.130,"BPM#6":0.094,"BPM#7":0.087},
{"i":473,"BPM#1":0.061,"BPM#2":0.070,"BPM#3":0.089,"BPM#4":0.244,"BPM#5":0.146,"BPM#6":0.098,"BPM#7":0.072},
{"i":475,"BPM#1":0.069,"BPM#2":0.079,"BPM#3":0.080,"BPM#4":0.238,"BPM#5":0.130,"BPM#6":0.106,"BPM#7":0.086},
{"i":477,"BPM#1":0.064,"BPM#2":0.066,"BPM#3":0.084,"BPM#4":0.255,"BPM#5":0.139,"BPM#6":0.102,"BPM#7":0.080},
{"i":479,"BPM#1":0.069,"BPM#2":0.062,"BPM#3":0.097,"BPM#4":0.262,"BPM#5":0.150,"BPM#6":0.091,"BPM#7":0.087},
{"i":481,"BPM#1":0.060,"BPM#2":0.075,"BPM#3":0.094,"BPM#4":0.239,"BPM#5":0.132,"BPM#6":0.094,"BPM#7":0.074},
{"i":483,"BPM#1":0.069,"BPM#2":0.062,"BPM#3":0.080,"BPM#4":0.262,"BPM#5":0.149,"BPM#6":0.092,"BPM#7":0.070},
{"i":485,"BPM#1":0.066,"BPM#2":0.068,"BPM#3":0.086,"BPM#4":0.250,"BPM#5":0.143,"BPM#6":0.107,"BPM#7":0.083},
{"i":487,"BPM#1":0.058,"BPM#2":0.079,"BPM#3":0.097,"BPM#4":0.238,"BPM#5":0.130,"BPM#6":0.092,"BPM#7":0.087},
{"i":489,"BPM#1":0.062,"BPM#2":0.062,"BPM#3":0.091,"BPM#4":0.246,"BPM#5":0.137,"BPM#6":0.096,"BPM#7":0.071},
{"i":491,"BPM#1":0.069,"BPM#2":0.079,"BPM#3":0.081,"BPM#4":0.240,"BPM#5":0.130,"BPM#6":0.106,"BPM#7":0.087},
{"i":493,"BPM#1":0.058,"BPM#2":0.073,"BPM#3":0.082,"BPM#4":0.258,"BPM#5":0.148,"BPM#6":0.101,"BPM#7":0.078},
{"i":495,"BPM#1":0.069,"BPM#2":0.062,"BPM#3":0.097,"BPM#4":0.262,"BPM#5":0.130,"BPM#6":0.106,"BPM#7":0.070},
{"i":497,"BPM#1":0.064,"BPM#2":0.079,"BPM#3":0.093,"BPM#4":0.242,"BPM#5":0.135,"BPM#6":0.093,"BPM#7":0.085},
{"i":499,"BPM#1":0.057,"BPM#2":0.062,"BPM#3":0.081,"BPM#4":0.262,"BPM#5":0.150,"BPM#6":0.106,"BPM#7":0.070},
{"i":501,"BPM#1":0.061,"BPM#2":0.067,"BPM#3":0.087,"BPM#4":0.252,"BPM#5":0.141,"BPM#6":0.104,"BPM#7":0.073},
{"i":503,"BPM#1":0.069,"BPM#2":0.079,"BPM#3":0.096,"BPM#4":0.238,"BPM#5":0.150,"BPM#6":0.092,"BPM#7":0.087},
{"i":505,"BPM#1":0.065,"BPM#2":0.071,"BPM#3":0.080,"BPM#4":0.245,"BPM#5":0.130,"BPM#6":0.097,"BPM#7":0.079},
{"i":507,"BPM#1":0.068,"BPM#2":0.079,"BPM#3":0.096,"BPM#4":0.262,"BPM#5":0.150,"BPM#6":0.106,"BPM#7":0.086},
{"i":509,"BPM#1":0.059,"BPM#2":0.064,"BPM#3":0.092,"BPM#4":0.256,"BPM#5":0.144,"BPM#6":0.100,"BPM#7":0.070},
{"i":511,"BPM#1":0.069,"BPM#2":0.062,"BPM#3":0.080,"BPM#4":0.262,"BPM#5":0.128,"BPM#6":0.106,"BPM#7":0.087},
{"i":513,"BPM#1":0.063,"BPM#2":0.076,"BPM#3":0.085,"BPM#4":0.240,"BPM#5":0.138,"BPM#6":0.092,"BPM#7":0.082},
{"i":515,"BPM#1":0.057,"BPM#2":0.062,"BPM#3":0.097,"BPM#4":0.262,"BPM#5":0.129,"BPM#6":0.091,"BPM#7":0.070},
{"i":517,"BPM#1":0.066,"BPM#2":0.069,"BPM#3":0.095,"BPM#4":0.251,"BPM#5":0.146,"BPM#6":0.105,"BPM#7":0.076},
{"i":519,"BPM#1":0.057,"BPM#2":0.079,"BPM#3":0.080,"BPM#4":0.262,"BPM#5":0.150,"BPM#6":0.104,"BPM#7":0.086},
{"i":521,"BPM#1":0.060,"BPM#2":0.061,"BPM#3":0.083,"BPM#4":0.247,"BPM#5":0.134,"BPM#6":0.095,"BPM#7":0.068},
{"i":523,"BPM#1":0.069,"BPM#2":0.079,"BPM#3":0.097,"BPM#4":0.238,"BPM#5":0.150,"BPM#6":0.091,"BPM#7":0.087},
{"i":525,"BPM#1":0.064,"BPM#2":0.074,"BPM#3":0.090,"BPM#4":0.258,"BPM#5":0.142,"BPM#6":0.102,"BPM#7":0.080},
{"i":527,"BPM#1":0.068,"BPM#2":0.062,"BPM#3":0.080,"BPM#4":0.238,"BPM#5":0.128,"BPM#6":0.106,"BPM#7":0.069},
{"i":529,"BPM#1":0.058,"BPM#2":0.068,"BPM#3":0.086,"BPM#4":0.243,"BPM#5":0.136,"BPM#6":0.094,"BPM#7":0.073},
{"i":531,"BPM#1":0.069,"BPM#2":0.062,"BPM#3":0.096,"BPM#4":0.262,"BPM#5":0.128,"BPM#6":0.105,"BPM#7":0.070},
{"i":533,"BPM#1":0.062,"BPM#2":0.077,"BPM#3":0.093,"BPM#4":0.254,"BPM#5":0.145,"BPM#6":0.099,"BPM#7":0.084},
{"i":535,"BPM#1":0.057,"BPM#2":0.079,"BPM#3":0.097,"BPM#4":0.262,"BPM#5":0.150,"BPM#6":0.104,"BPM#7":0.087},
{"i":537,"BPM#1":0.065,"BPM#2":0.063,"BPM#3":0.081,"BPM#4":0.241,"BPM#5":0.131,"BPM#6":0.091,"BPM#7":0.071},
{"i":539,"BPM#1":0.057,"BPM#2":0.079,"BPM#3":0.096,"BPM#4":0.262,"BPM#5":0.149,"BPM#6":0.106,"BPM#7":0.086},
{"i":541,"BPM#1":0.059,"BPM#2":0.072,"BPM#3":0.089,"BPM#4":0.249,"BPM#5":0.140,"BPM#6":0.101,"BPM#7":0.077},
{"i":543,"BPM#1":0.068,"BPM#2":0.062,"BPM#3":0.096,"BPM#4":0.262,"BPM#5":0.129,"BPM#6":0.092,"BPM#7":0.069},
{"i":545,"BPM#1":0.063,"BPM#2":0.066,"BPM#3":0.085,"BPM#4":0.245,"BPM#5":0.137,"BPM#6":0.096,"BPM#7":0.082},
{"i":547,"BPM#1":0.069,"BPM#2":0.079,"BPM#3":0.080,"BPM#4":0.238,"BPM#5":0.150,"BPM#6":0.106,"BPM#7":0.086},
{"i":549,"BPM#1":0.057,"BPM#2":0.075,"BPM#3":0.094,"BPM#4":0.256,"BPM#5":0.143,"BPM#6":0.093,"BPM#7":0.069},
{"i":551,"BPM#1":0.068,"BPM#2":0.062,"BPM#3":0.080,"BPM#4":0.240,"BPM#5":0.128,"BPM#6":0.105,"BPM#7":0.086},
{"i":553,"BPM#1":0.064,"BPM#2":0.070,"BPM#3":0.082,"BPM#4":0.244,"BPM#5":0.135,"BPM#6":0.098,"BPM#7":0.075},
{"i":555,"BPM#1":0.056,"BPM#2":0.079,"BPM#3":0.095,"BPM#4":0.262,"BPM#5":0.150,"BPM#6":0.091,"BPM#7":0.086},
{"i":557,"BPM#1":0.058,"BPM#2":0.060,"BPM#3":0.088,"BPM#4":0.250,"BPM#5":0.139,"BPM#6":0.094,"BPM#7":0.066},
{"i":559,"BPM#1":0.063,"BPM#2":0.070,"BPM#3":0.084,"BPM#4":0.256,"BPM#5":0.132,"BPM#6":0.101,"BPM#7":0.074}
]},
"transform": [{"fold": ["BPM#1","BPM#2","BPM#3","BPM#4","BPM#5","BPM#6","BPM#7"], "as": ["series","dispersion"]}],
"layer": [
 {"mark": {"type": "line", "strokeWidth": 2.5, "strokeJoin": "round"},
  "encoding": {
   "x": {"field": "i", "type": "quantitative", "scale": {"domain": [0, 600], "nice": false}, "axis": {"orient": "bottom", "values": [0, 200, 400, 600], "title": "bunch index", "labelPadding": 12, "titlePadding": 5, "format": "d"}},
   "y": {"field": "dispersion", "type": "quantitative", "scale": {"domain": [0, 0.3], "nice": false}, "axis": {"orient": "left", "values": [0, 0.1, 0.2, 0.3], "format": "~g", "title": "dispersion (m)", "labelPadding": 10, "titlePadding": 8}},
   "color": {"field": "series", "type": "nominal", "title": null,
     "scale": {"domain": ["BPM#1","BPM#2","BPM#3","BPM#4","BPM#5","BPM#6","BPM#7"], "range": ["#0072BD","#D95319","#EDB120","#7E2F8E","#77AC30","#4DBEEE","#A2142F"]},
     "legend": {"orient": "top-right", "offset": 0, "symbolType": "M-2,0H2", "symbolSize": 441, "symbolStrokeWidth": 3, "symbolOffset": 6.5, "labelFont": "Liberation Serif, Times New Roman, DejaVu Serif, serif", "labelFontSize": 25, "labelColor": "black", "labelOffset": 14, "rowPadding": 4, "padding": 5, "strokeColor": "black", "fillColor": "white", "cornerRadius": 0, "labelLimit": 200}}
  }},
 {"mark": {"type": "point", "opacity": 0},
  "encoding": {
   "x": {"field": "i", "type": "quantitative", "scale": {"domain": [0, 600], "nice": false}, "axis": {"orient": "top", "values": [0, 200, 400, 600], "labels": false, "title": null}},
   "y": {"field": "dispersion", "type": "quantitative", "scale": {"domain": [0, 0.3], "nice": false}, "axis": {"orient": "right", "values": [0, 0.1, 0.2, 0.3], "labels": false, "title": null}}
  }}
],
"resolve": {"axis": {"x": "independent", "y": "independent"}}
}
